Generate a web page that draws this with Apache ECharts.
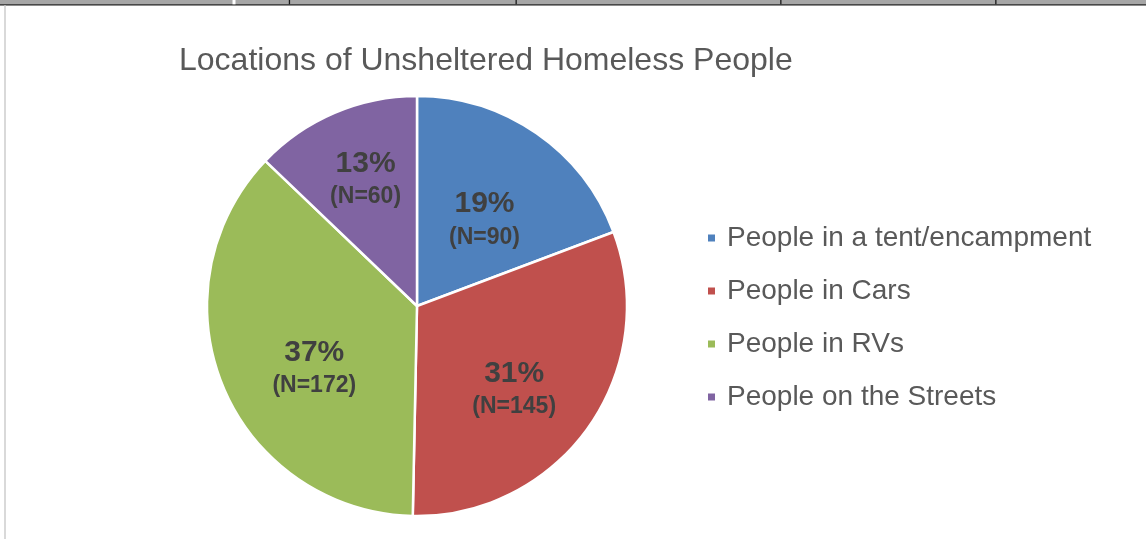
<!DOCTYPE html>
<html>
<head>
<meta charset="utf-8">
<script src="https://cdn.jsdelivr.net/npm/echarts@6/dist/echarts.min.js"></script>
<style>
html,body{margin:0;padding:0;background:#fff;}
#chart{width:1146px;height:539px;}
</style>
</head>
<body>
<div id="chart"></div>
<script>
const titleText = 'Locations of Unsheltered Homeless People';
const categories = ['People in a tent/encampment', 'People in Cars', 'People in RVs', 'People on the Streets'];
const counts = [90, 145, 172, 60];
const colors = ['#4F81BD', '#C0504D', '#9BBB59', '#8064A2'];
const labelOffsets = [[6, 2], [9, 20], [-3, 20], [-9, -28]];

const total = counts.reduce((a, b) => a + b, 0);
const chart = echarts.init(document.getElementById('chart'));
const FONT = '"Liberation Sans", Arial, Helvetica, sans-serif';

const data = categories.map((name, i) => ({
  name: name,
  value: counts[i],
  itemStyle: { color: colors[i] },
  label: { offset: labelOffsets[i] }
}));

chart.setOption({
  animation: false,
  backgroundColor: '#ffffff',
  title: {
    text: titleText,
    left: 179,
    top: 45,
    padding: 0,
    textStyle: { fontFamily: FONT, fontSize: 32, fontWeight: 'normal', color: '#595959' }
  },
  legend: {
    orient: 'vertical',
    left: 706,
    top: 224,
    padding: 0,
    itemWidth: 9,
    itemHeight: 9,
    itemGap: 25,
    icon: 'rect',
    data: categories,
    textStyle: { fontFamily: FONT, fontSize: 28, lineHeight: 28, color: '#595959', padding: [0, 0, 0, 6] }
  },
  graphic: [
    { type: 'rect', shape: { x: 0, y: 0, width: 1146, height: 4.5 }, style: { fill: '#a6a6a6' }, silent: true },
    { type: 'rect', shape: { x: 0, y: 4.3, width: 1146, height: 1.2 }, style: { fill: '#1a1a1a' }, silent: true },
    { type: 'rect', shape: { x: 4, y: 5.5, width: 2, height: 534 }, style: { fill: '#d9d9d9' }, silent: true },
    { type: 'rect', shape: { x: 232.5, y: 0, width: 3, height: 4.3 }, style: { fill: '#ffffff' }, silent: true },
    { type: 'rect', shape: { x: 288.8, y: 0, width: 1.3, height: 4.3 }, style: { fill: '#1a1a1a' }, silent: true },
    { type: 'rect', shape: { x: 515.5, y: 0, width: 1.3, height: 4.3 }, style: { fill: '#1a1a1a' }, silent: true },
    { type: 'rect', shape: { x: 780.2, y: 0, width: 1.3, height: 4.3 }, style: { fill: '#1a1a1a' }, silent: true },
    { type: 'rect', shape: { x: 995.2, y: 0, width: 1.3, height: 4.3 }, style: { fill: '#1a1a1a' }, silent: true }
  ],
  series: [{
    type: 'pie',
    center: [417, 306],
    radius: [0, 210],
    startAngle: 90,
    clockwise: true,
    avoidLabelOverlap: false,
    itemStyle: { borderColor: '#ffffff', borderWidth: 2.5 },
    emphasis: { disabled: true },
    label: {
      show: true,
      position: 'inside',
      formatter: function (p) {
        const pct = Math.round(p.value / total * 100);
        return '{pct|' + pct + '%}\n{n|(N=' + p.value + ')}';
      },
      rich: {
        pct: { fontFamily: FONT, fontSize: 30, fontWeight: 'bold', color: '#404040', lineHeight: 36, align: 'center' },
        n: { fontFamily: FONT, fontSize: 23, fontWeight: 'bold', color: '#404040', lineHeight: 30, align: 'center' }
      }
    },
    labelLine: { show: false },
    data: data
  }]
});
</script>
</body>
</html>
